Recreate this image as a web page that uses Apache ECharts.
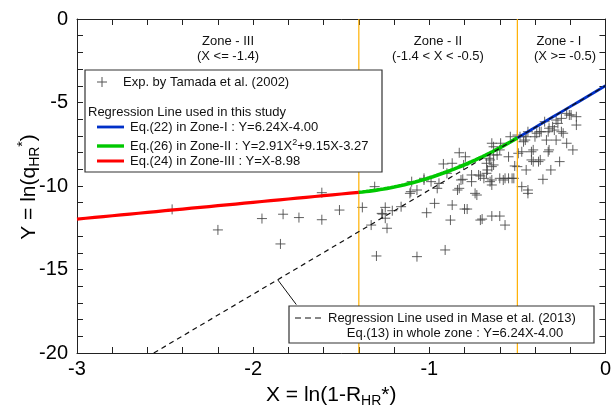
<!DOCTYPE html>
<html>
<head>
<meta charset="utf-8">
<script src="https://cdn.jsdelivr.net/npm/echarts@6/dist/echarts.min.js"></script>
<style>
  html, body { margin: 0; padding: 0; background: #fff; }
  #chart { width: 614px; height: 407px; }
</style>
</head>
<body>
<div id="chart"></div>
<script>
// Experimental points by Tamada et al. (2002), [X, Y] with X = ln(1-R_HR*), Y = ln(q_HR*)
const expZoneIII = [
  [-2.46, -11.40], [-2.20, -12.63], [-1.95, -11.95], [-1.83, -11.69], [-1.74, -11.89],
  [-1.61, -12.02], [-1.51, -11.44], [-1.61, -10.40], [-1.845, -13.47]
];
const expZoneII = [
  [-1.38, -11.28], [-1.31, -10.04], [-1.25, -11.28], [-1.21, -11.48], [-1.33, -12.34],
  [-1.27, -11.64], [-1.25, -11.93], [-1.24, -12.53], [-1.30, -14.19], [-1.07, -14.23],
  [-0.91, -13.83], [-1.16, -11.24], [-1.11, -10.44], [-1.07, -10.24], [-1.03, -9.54],
  [-1.015, -11.60], [-0.97, -11.04], [-0.87, -11.14], [-0.80, -11.38], [-0.88, -12.04],
  [-0.955, -10.14], [-0.92, -8.68], [-0.87, -8.64], [-0.83, -10.14], [-0.84, -10.24],
  [-0.81, -9.60], [-0.805, -8.74], [-0.83, -8.01], [-0.76, -9.74], [-0.73, -10.54],
  [-0.71, -12.04], [-0.645, -11.80], [-0.60, -11.80], [-0.57, -12.34], [-0.71, -9.40],
  [-0.67, -9.04], [-0.645, -9.64], [-0.66, -8.34], [-0.645, -7.44], [-0.595, -7.44],
  [-0.60, -7.84], [-0.58, -9.64], [-0.55, -9.54], [-0.53, -9.54], [-0.55, -8.25],
  [-0.54, -7.05], [-0.515, -8.80], [-1.105, -10.34], [-1.10, -9.74], [-1.03, -9.64],
  [-0.99, -9.74], [-0.945, -9.84], [-0.90, -9.24], [-0.795, -8.25], [-0.785, -11.38],
  [-0.74, -10.44], [-0.70, -11.98], [-0.76, -9.34], [-0.72, -9.34], [-0.69, -9.54],
  [-0.655, -9.74], [-0.675, -9.24], [-0.675, -8.64], [-0.655, -8.44], [-0.635, -8.74],
  [-0.635, -7.65], [-0.635, -8.14], [-0.82, -9.64], [-1.265, -11.68], [-0.57, -9.54],
  [-0.52, -9.54], [-0.615, -8.14], [-0.645, -8.84], [-0.645, -9.94], [-0.60, -9.54]
];
const expZoneI = [
  [-0.50, -6.95], [-0.495, -8.04], [-0.475, -10.04], [-0.44, -10.24], [-0.45, -7.05],
  [-0.465, -7.35], [-0.41, -7.84], [-0.42, -8.44], [-0.37, -8.44], [-0.32, -7.84],
  [-0.355, -9.60], [-0.31, -9.04], [-0.26, -8.54], [-0.22, -7.44], [-0.185, -7.84],
  [-0.39, -6.84], [-0.375, -6.75], [-0.345, -6.15], [-0.30, -6.45], [-0.28, -6.05],
  [-0.25, -5.95], [-0.205, -5.75], [-0.165, -5.85], [-0.165, -6.35], [-0.32, -6.54],
  [-0.24, -6.84], [-0.28, -7.25], [-0.22, -5.65], [-0.195, -5.75], [-0.27, -6.25],
  [-0.29, -6.65], [-0.325, -6.75], [-0.365, -6.75], [-0.40, -7.05], [-0.44, -6.75],
  [-0.25, -6.75], [-0.335, -7.25], [-0.455, -7.25], [-0.485, -7.05], [-0.325, -7.95],
  [-0.38, -8.54], [-0.42, -7.95], [-0.41, -8.54], [-0.45, -9.04], [-0.475, -7.95],
  [-0.50, -8.84], [-0.44, -10.44]
];

// Zone boundaries on X and the axis ranges
const zoneBounds = [-1.4, -0.5];
const xRange = [-3, 0];
const yRange = [-20, 0];
const xTicks = [-3, -2, -1, 0];
const yTicks = [-20, -15, -10, -5, 0];

// Regression coefficients
const eqZoneI = [6.24, -4.00];          // Y = aX + b
const eqZoneII = [2.91, 9.15, -3.27];   // Y = aX^2 + bX + c
const eqZoneIII = [1.0, -8.98];         // Y = aX + b
const eqMase = [6.24, -4.00];           // Y = aX + b, whole zone

// Pointer from the Mase et al. line to its legend box
const maseLeader = [[-1.86, -15.62], [-1.755, -17.1]];

function sample(fn, x0, x1, step) {
  const out = [];
  const n = Math.round((x1 - x0) / step);
  for (let i = 0; i <= n; i++) {
    const x = x0 + (x1 - x0) * i / n;
    out.push([x, fn(x)]);
  }
  return out;
}
const lin = c => x => c[0] * x + c[1];
const quad = c => x => c[0] * x * x + c[1] * x + c[2];

const lineZoneIII = sample(lin(eqZoneIII), xRange[0], zoneBounds[0], 0.05);
const lineZoneII = sample(quad(eqZoneII), zoneBounds[0], zoneBounds[1], 0.02);
const lineZoneI = sample(lin(eqZoneI), zoneBounds[1], xRange[1], 0.05);
const maseStart = (yRange[0] - eqMase[1]) / eqMase[0];
const lineMase = [[maseStart, yRange[0]], [xRange[1], lin(eqMase)(xRange[1])]];

const FONT = 'Liberation Sans, Arial, sans-serif';
const plus = 'path://M0,5L10,5M5,0L5,10';

const chart = echarts.init(document.getElementById('chart'), null, { renderer: 'canvas' });

function axisCommon(extra) {
  return Object.assign({
    type: 'value',
    splitLine: { show: false },
    axisLine: { show: true, onZero: false, lineStyle: { color: '#222', width: 1 } },
    axisTick: { show: true, inside: true, length: 6, lineStyle: { color: '#222', width: 1 } },
    minorTick: { show: true, splitNumber: 5, length: 6, lineStyle: { color: '#222', width: 1 } },
    minorSplitLine: { show: false }
  }, extra);
}

const txt = (x, y, text, opts) => ({
  type: 'text', z: 101,
  style: Object.assign({
    x, y, text, fill: '#111', fontSize: 13, fontFamily: FONT,
    align: 'left', verticalAlign: 'middle', textAlign: 'left', textVerticalAlign: 'middle'
  }, opts || {})
});
const seg = (x1, y1, x2, y2, color, width, dash) => ({
  type: 'line', z: 101,
  shape: { x1, y1, x2, y2 },
  style: { stroke: color, lineWidth: width, lineDash: dash || null }
});

chart.setOption({
  animation: false,
  backgroundColor: '#fff',
  grid: { left: 77, right: 5, top: 19, bottom: 54 },
  xAxis: [
    axisCommon({
      min: xRange[0], max: xRange[1], interval: 1, position: 'bottom',
      axisLabel: { fontSize: 20, color: '#000', fontFamily: FONT, margin: 6,
        formatter: v => xTicks.includes(v) ? String(v) : '' }
    }),
    axisCommon({
      min: xRange[0], max: xRange[1], interval: 1, position: 'top',
      axisLabel: { show: false }
    })
  ],
  yAxis: [
    axisCommon({
      min: yRange[0], max: yRange[1], interval: 5, position: 'left',
      axisLabel: { fontSize: 20, color: '#000', fontFamily: FONT, margin: 9,
        formatter: v => yTicks.includes(v) ? String(v) : '' }
    }),
    axisCommon({
      min: yRange[0], max: yRange[1], interval: 5, position: 'right',
      axisLabel: { show: false }
    })
  ],
  series: [
    {
      type: 'line', name: 'boundary -1.4', showSymbol: false, silent: true,
      data: [[zoneBounds[0], yRange[0]], [zoneBounds[0], yRange[1]]],
      lineStyle: { color: '#ffb000', width: 1.2 }
    },
    {
      type: 'line', name: 'boundary -0.5', showSymbol: false, silent: true,
      data: [[zoneBounds[1], yRange[0]], [zoneBounds[1], yRange[1]]],
      lineStyle: { color: '#ffb000', width: 1.2 }
    },
    {
      type: 'line', name: 'Eq.(24)', showSymbol: false, data: lineZoneIII,
      lineStyle: { color: '#ff0000', width: 3.2 }
    },
    {
      type: 'line', name: 'Eq.(26)', showSymbol: false, data: lineZoneII,
      lineStyle: { color: '#00c800', width: 3.6 }
    },
    {
      type: 'line', name: 'Eq.(22)', showSymbol: false, data: lineZoneI,
      lineStyle: { color: '#0030c8', width: 2.8 }
    },
    {
      type: 'line', name: 'Eq.(13)', showSymbol: false, data: lineMase,
      lineStyle: { color: '#111', width: 1.2, type: [5, 4] }
    },
    {
      type: 'line', name: 'leader', showSymbol: false, data: maseLeader,
      lineStyle: { color: '#111', width: 1 }
    },
    {
      type: 'scatter', name: 'Exp. by Tamada et al. (2002)',
      data: expZoneIII.concat(expZoneII, expZoneI),
      symbol: plus, symbolSize: 10,
      itemStyle: { color: 'none', borderColor: '#444', borderWidth: 1, opacity: 0.85 }
    }
  ],
  graphic: [
    // zone captions
    txt(228, 41, 'Zone - III', { align: 'center', textAlign: 'center' }),
    txt(228, 56, '(X <= -1.4)', { align: 'center', textAlign: 'center' }),
    txt(438, 41, 'Zone - II', { align: 'center', textAlign: 'center' }),
    txt(438, 56, '(-1.4 < X < -0.5)', { align: 'center', textAlign: 'center' }),
    txt(559, 41, 'Zone - I', { align: 'center', textAlign: 'center' }),
    txt(565, 56, '(X >= -0.5)', { align: 'center', textAlign: 'center' }),

    // upper-left legend box
    { type: 'rect', z: 100, shape: { x: 85, y: 70, width: 297, height: 102 },
      style: { fill: '#fff', stroke: '#333', lineWidth: 1.2 } },
    seg(97, 82, 107, 82, '#555', 1),
    seg(102, 77, 102, 87, '#555', 1),
    txt(123, 82, 'Exp. by Tamada et al. (2002)'),
    txt(88, 112, 'Regression Line used in this study'),
    seg(97, 127, 124, 127, '#0030c8', 2.8),
    txt(130, 127, 'Eq.(22) in Zone-I : Y=6.24X-4.00'),
    seg(97, 146, 124, 146, '#00c800', 3.4),
    txt(130, 146, '{n|Eq.(26) in Zone-II : Y=2.91X}{s|2}{n|+9.15X-3.27}', {
      rich: {
        n: { fontSize: 13, fontFamily: FONT, fill: '#111', lineHeight: 16 },
        s: { fontSize: 9, fontFamily: FONT, fill: '#111', lineHeight: 16, verticalAlign: 'top', padding: [0, 0, 6, 0] }
      }
    }),
    seg(97, 161, 124, 161, '#ff0000', 3),
    txt(130, 161, 'Eq.(24) in Zone-III : Y=X-8.98'),

    // lower-right legend box
    { type: 'rect', z: 100, shape: { x: 289, y: 306, width: 305, height: 37 },
      style: { fill: '#fff', stroke: '#333', lineWidth: 1.2 } },
    seg(295, 318, 323, 318, '#111', 1.2, [6, 4]),
    txt(328, 318, 'Regression Line used in Mase et al. (2013)'),
    txt(455, 333, 'Eq.(13) in whole zone : Y=6.24X-4.00', { align: 'center', textAlign: 'center' }),

    // axis titles
    txt(266, 395, '{n|X = ln(1-R}{s|HR}{n|*)}', {
      fill: '#000',
      rich: {
        n: { fontSize: 21, fontFamily: FONT, fill: '#000', lineHeight: 26 },
        s: { fontSize: 14, fontFamily: FONT, fill: '#000', lineHeight: 26, verticalAlign: 'bottom', padding: [8, 0, 0, 0] }
      }
    }),
    { type: 'text', z: 101, x: 29, y: 187, rotation: Math.PI / 2,
      style: {
        x: 0, y: 0, text: '{n|Y = ln(q}{s|HR}{p|*}{n|)}',
        align: 'center', verticalAlign: 'middle', textAlign: 'center', textVerticalAlign: 'middle',
        fill: '#000', fontSize: 21, fontFamily: FONT,
        rich: {
          n: { fontSize: 21, fontFamily: FONT, fill: '#000', lineHeight: 26 },
          s: { fontSize: 14, fontFamily: FONT, fill: '#000', lineHeight: 26, verticalAlign: 'bottom', padding: [8, 0, 0, 0] },
          p: { fontSize: 14, fontFamily: FONT, fill: '#000', lineHeight: 26, verticalAlign: 'top', padding: [0, 0, 8, 0] }
        }
      }
    }
  ]
});
</script>
</body>
</html>
